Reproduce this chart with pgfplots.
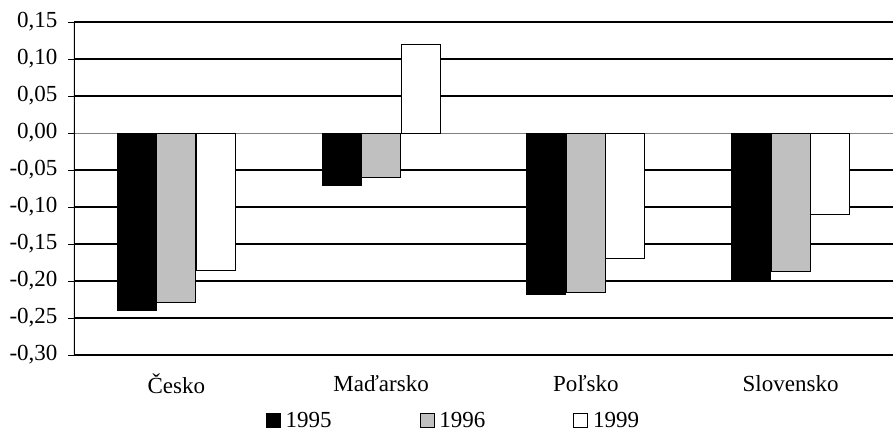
\documentclass[border=0pt]{standalone}
\usepackage{fontspec}
\setmainfont{Liberation Serif}
\usepackage{pgfplots}
\pgfplotsset{compat=1.18}
\definecolor{bargray}{RGB}{192,192,192}

\begin{document}
\begin{tikzpicture}[font=\fontsize{23bp}{27bp}\selectfont]
\begin{axis}[
    scale only axis,
    width=819bp,
    height=333bp,
    xmin=-0.5, xmax=3.5,
    ymin=-0.3, ymax=0.15,
    axis line style={draw=none},
    xtick={0,1,2,3},
    xticklabels={Česko,Maďarsko,Poľsko,Slovensko},
    x tick style={draw=none},
    xticklabel style={anchor=center, yshift=-23bp},
    ytick={-0.3,-0.25,-0.2,-0.15,-0.1,-0.05,0,0.05,0.1,0.15},
    yticklabels={{-0,30},{-0,25},{-0,20},{-0,15},{-0,10},{-0,05},{0,00},{0,05},{0,10},{0,15}},
    ymajorgrids,
    major grid style={black, line width=1.1bp},
    ytick pos=left,
    tick align=outside,
    major tick length=6bp,
    y tick style={black, line width=1bp},
    yticklabel style={xshift=-7bp},
    legend columns=3,
    legend style={at={(0.4634,-0.197)}, anchor=center, draw=none, fill=none,
        font=\fontsize{23bp}{27bp}\selectfont,
        /tikz/every odd column/.append style={column sep=3bp},
        /tikz/every even column/.append style={column sep=86bp}},
    legend image code/.code={\draw[#1, draw=black, line width=0.8bp] (0bp,-7bp) rectangle (14bp,7bp);},
]
\draw[white, line width=1.6bp] (axis cs:-0.5,0) -- (axis cs:3.5,0);
\draw[gray, line width=0.8bp] (axis cs:-0.5,0) -- (axis cs:3.5,0);
\draw[black, line width=1.3bp] (axis cs:-0.5,-0.3) -- (axis cs:-0.5,0.15);
\draw[gray, line width=0.8bp] (axis cs:0.5,0) ++(0,5.5bp) -- ++(0,-11bp);
\draw[gray, line width=0.8bp] (axis cs:1.5,0) ++(0,5.5bp) -- ++(0,-11bp);
\draw[gray, line width=0.8bp] (axis cs:2.5,0) ++(0,5.5bp) -- ++(0,-11bp);

\addplot[ybar, bar width=39bp, bar shift=-39.5bp, fill=black, draw=black, line width=1bp]
coordinates {(0,-0.240) (1,-0.071) (2,-0.218) (3,-0.200)};
\addlegendentry{1995}
\addplot[ybar, bar width=39bp, bar shift=0bp, fill=bargray, draw=black, line width=1bp]
coordinates {(0,-0.229) (1,-0.060) (2,-0.216) (3,-0.187)};
\addlegendentry{1996}
\addplot[ybar, bar width=39bp, bar shift=39.5bp, fill=white, draw=black, line width=1bp]
coordinates {(0,-0.186) (1,0.119) (2,-0.170) (3,-0.110)};
\addlegendentry{1999}
\end{axis}
\pgfresetboundingbox
\path[use as bounding box] (-74bp,-79bp) rectangle (819bp,355bp);
\end{tikzpicture}
\end{document}
